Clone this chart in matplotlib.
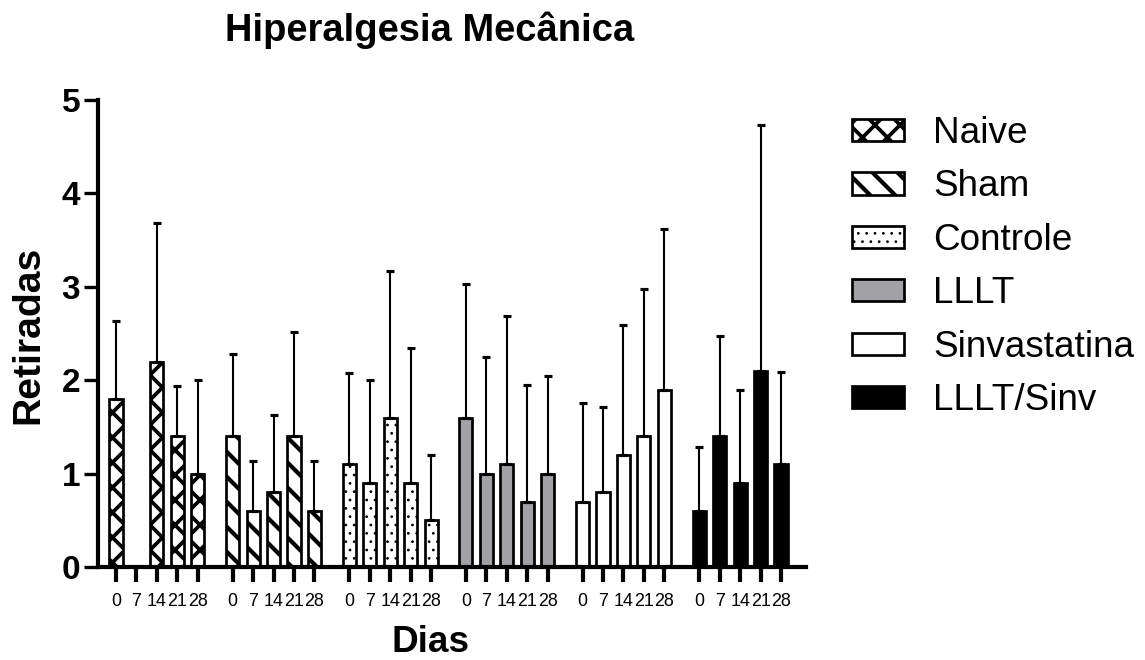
import matplotlib
matplotlib.use("Agg")
import matplotlib.pyplot as plt
from matplotlib.patches import Patch
import numpy as np

plt.rcParams['font.family'] = ['Liberation Sans', 'DejaVu Sans']

groups = ['Naive', 'Sham', 'Controle', 'LLLT', 'Sinvastatina', 'LLLT/Sinv']
days = ['0', '7', '14', '21', '28']

naive_mean = [1.8, np.nan, 2.2, 1.4, 1.0]
naive_err = [0.83, np.nan, 1.48, 0.54, 1.0]
sham_mean = [1.4, 0.6, 0.8, 1.4, 0.6]
sham_err = [0.88, 0.54, 0.83, 1.12, 0.54]
controle_mean = [1.1, 0.9, 1.6, 0.9, 0.5]
controle_err = [0.98, 1.1, 1.57, 1.44, 0.7]
lllt_mean = [1.6, 1.0, 1.1, 0.7, 1.0]
lllt_err = [1.43, 1.25, 1.59, 1.25, 1.05]
sinv_mean = [0.7, 0.8, 1.2, 1.4, 1.9]
sinv_err = [1.06, 0.91, 1.39, 1.58, 1.72]
ls_mean = [0.6, 1.4, 0.9, 2.1, 1.1]
ls_err = [0.69, 1.07, 0.99, 2.63, 0.99]

means = [naive_mean, sham_mean, controle_mean, lllt_mean, sinv_mean, ls_mean]
errs = [naive_err, sham_err, controle_err, lllt_err, sinv_err, ls_err]

styles = [
    dict(facecolor='white', hatch='xx', hlw=1.8),
    dict(facecolor='white', hatch='\\\\', hlw=2.0),
    dict(facecolor='white', hatch='...', hlw=0.5),
    dict(facecolor='#a2a2a6', hatch=None, hlw=1.0),
    dict(facecolor='white', hatch=None, hlw=1.0),
    dict(facecolor='black', hatch=None, hlw=1.0),
]

DPI = 150
fig = plt.figure(figsize=(1145 / DPI, 660 / DPI), dpi=DPI)
W, H = 1145, 660
ax = fig.add_axes([98 / W, 1 - 567 / H, (806 - 98) / W, (567 - 100) / H])

group_step = 5.7
bar_w = 0.64
all_x = []
all_labels = []
for g, (m, e, st) in enumerate(zip(means, errs, styles)):
    x = g * group_step + np.arange(len(days))
    all_x.extend(x)
    all_labels.extend(days)
    plt.rcParams['hatch.linewidth'] = st['hlw']
    bars = ax.bar(x, m, width=bar_w, color=st['facecolor'], edgecolor='black',
                  linewidth=1.3, hatch=st['hatch'], zorder=2)
    for b in bars:
        try:
            b.set_hatch_linewidth(st['hlw'])
        except AttributeError:
            pass
    e_arr = np.array(e, dtype=float)
    ax.errorbar(x, m, yerr=[np.zeros_like(e_arr), e_arr], fmt='none',
                ecolor='black', elinewidth=1.0, capsize=2.0, capthick=1.5,
                zorder=3)

ax.set_xlim(-0.88, 5 * group_step + 4 + 1.22)
ax.set_ylim(0, 5)
ax.set_xticks(all_x)
ax.set_xticklabels(all_labels, fontsize=8.6)
ax.set_yticks([0, 1, 2, 3, 4, 5])
ax.set_yticklabels(['0', '1', '2', '3', '4', '5'], fontsize=16, fontweight='bold')
ax.tick_params(axis='x', direction='out', length=7, width=2.0, pad=5.5)
ax.tick_params(axis='y', direction='out', length=6.5, width=1.6, pad=2)
for s in ['top', 'right']:
    ax.spines[s].set_visible(False)
for s in ['left', 'bottom']:
    ax.spines[s].set_linewidth(2.0)
ax.set_facecolor('none')

fig.text(430 / W, 1 - 30 / H, 'Hiperalgesia Mecânica', fontsize=18.3,
         fontweight='bold', ha='center', va='center')
fig.text(28 / W, 1 - 335 / H, 'Retiradas', fontsize=18.8, fontweight='bold',
         ha='center', va='center', rotation=90)
fig.text(430 / W, 1 - 642 / H, 'Dias', fontsize=17.7, fontweight='bold',
         ha='center', va='center')

handles = []
for g, st in enumerate(styles):
    plt.rcParams['hatch.linewidth'] = st['hlw']
    p = Patch(facecolor=st['facecolor'], edgecolor='black', linewidth=1.3,
              hatch=st['hatch'], label=groups[g])
    handles.append(p)
leg = fig.legend(handles=handles, loc='upper left',
                 bbox_to_anchor=(852 / W, 1 - 116 / H), frameon=False,
                 fontsize=17.7, handlelength=1.4, handleheight=0.55,
                 handletextpad=0.8, labelspacing=0.5, borderpad=0,
                 borderaxespad=0)
for lp, st in zip(leg.get_patches(), styles):
    try:
        lp.set_hatch_linewidth(st['hlw'])
    except AttributeError:
        pass

fig.savefig('out.png', dpi=DPI)
